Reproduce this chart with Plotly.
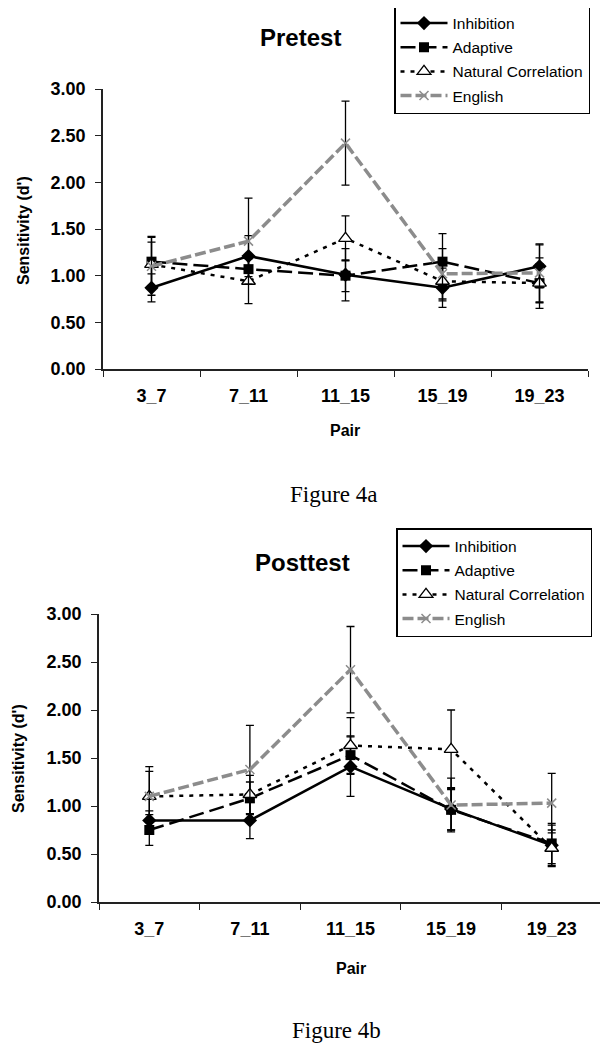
import plotly.graph_objects as go

W, H = 608, 1050
OFF = 8  # page body margin in the browser

pairs = ["3_7", "7_11", "11_15", "15_19", "19_23"]
series_names = ["Inhibition", "Adaptive", "Natural Correlation", "English"]

# Pretest
inh_pre = [0.87, 1.21, 1.01, 0.87, 1.10]
inh_pre_err = [0.15, 0.22, 0.28, 0.21, 0.23]
ada_pre = [1.15, 1.07, 1.00, 1.15, 0.92]
ada_pre_err = [0.27, 0.12, 0.17, 0.30, 0.21]
natc_pre = [1.12, 0.94, 1.40, 0.94, 0.92]
natc_pre_err = [0.24, 0.24, 0.24, 0.21, 0.27]
eng_pre = [1.10, 1.37, 2.42, 1.02, 1.03]
eng_pre_err = [0.31, 0.46, 0.45, 0.27, 0.31]

# Posttest
inh_post = [0.85, 0.85, 1.41, 0.97, 0.59]
inh_post_err = [0.10, 0.19, 0.31, 0.22, 0.21]
ada_post = [0.75, 1.08, 1.53, 0.96, 0.61]
ada_post_err = [0.16, 0.17, 0.20, 0.21, 0.21]
natc_post = [1.10, 1.12, 1.63, 1.59, 0.56]
natc_post_err = [0.26, 0.20, 0.29, 0.41, 0.19]
eng_post = [1.10, 1.38, 2.42, 1.01, 1.03]
eng_post_err = [0.31, 0.46, 0.45, 0.28, 0.31]

y_ticks = [0, 0.5, 1.0, 1.5, 2.0, 2.5, 3.0]

FONT = "Liberation Sans, Arial, sans-serif"
SERIF = "Liberation Serif, Times New Roman, serif"
GRAY = "#8c8c8c"

styles = {
    "Inhibition": dict(line=dict(color="black", width=2.5, dash="solid"),
                       marker=dict(symbol="diamond", size=11, color="black")),
    "Adaptive": dict(line=dict(color="black", width=2.5, dash="15px,6px"),
                     marker=dict(symbol="square", size=10, color="black")),
    "Natural Correlation": dict(line=dict(color="black", width=2.5, dash="4px,6px"),
                                marker=dict(symbol="triangle-up", size=12, color="white",
                                            line=dict(color="black", width=1.3))),
    "English": dict(line=dict(color=GRAY, width=3.5, dash="11px,4px"),
                    marker=dict(symbol="x-thin-open", size=9, color=GRAY,
                                line=dict(color=GRAY, width=1.5))),
}

fig = go.Figure()

panels = [
    ("x", "y", "legend", [inh_pre, ada_pre, natc_pre, eng_pre],
     [inh_pre_err, ada_pre_err, natc_pre_err, eng_pre_err]),
    ("x2", "y2", "legend2", [inh_post, ada_post, natc_post, eng_post],
     [inh_post_err, ada_post_err, natc_post_err, eng_post_err]),
]

for xa, ya, lg, vals, errs in panels:
    for name, v, e in zip(series_names, vals, errs):
        st = styles[name]
        fig.add_trace(go.Scatter(
            x=pairs, y=v, name=name, mode="lines+markers",
            xaxis=xa, yaxis=ya, legend=lg, legendgroup=lg + name,
            line=st["line"], marker=st["marker"],
            error_y=dict(type="data", array=e, visible=True, color="black",
                         thickness=1.3, width=4),
        ))


def px_x(p):
    return (p - OFF) / W


def px_y(p):
    return 1 - (p - OFF) / H


axis_font = dict(family=FONT, size=18, color="black", weight="bold")

common_x = dict(type="category", range=[-0.5, 4.5], tickson="boundaries",
                ticks="outside", ticklen=6, tickwidth=1.3, tickcolor="#222",
                showline=True, linecolor="#222", linewidth=1.5,
                showgrid=False, zeroline=False, tickfont=axis_font,
                ticklabelstandoff=10, categoryorder="array", categoryarray=pairs)
common_y = dict(range=[0, 3], tickvals=y_ticks, tickformat=".2f",
                ticks="outside", ticklen=6, tickwidth=1.3, tickcolor="#222",
                showline=True, linecolor="#222", linewidth=1.5,
                showgrid=False, zeroline=False, tickfont=axis_font,
                ticklabelstandoff=6)

legend_common = dict(xanchor="left", yanchor="top", bgcolor="white",
                     bordercolor="black", borderwidth=1.5,
                     font=dict(family=FONT, size=15.5, color="black"),
                     tracegroupgap=1, itemwidth=47)

fig.update_layout(
    width=W, height=H,
    margin=dict(l=0, r=0, t=0, b=0, pad=0, autoexpand=False),
    paper_bgcolor="white", plot_bgcolor="white",
    showlegend=True,
    xaxis=dict(domain=[px_x(103), px_x(588)], anchor="y", **common_x),
    yaxis=dict(domain=[px_y(369), px_y(89)], anchor="x", **common_y),
    xaxis2=dict(domain=[px_x(99), px_x(602)], anchor="y2", **common_x),
    yaxis2=dict(domain=[px_y(902), px_y(614)], anchor="x2", **common_y),
    legend=dict(x=px_x(394), y=px_y(5), **legend_common),
    legend2=dict(x=px_x(396), y=px_y(528), **legend_common),
)

annots = [
    ("Pretest", 300, 37, dict(family=FONT, size=24, color="black", weight="bold"), 0),
    ("Posttest", 302, 562, dict(family=FONT, size=24, color="black", weight="bold"), 0),
    ("Pair", 345, 431, dict(family=FONT, size=16, color="black", weight="bold"), 0),
    ("Pair", 351, 968, dict(family=FONT, size=16, color="black", weight="bold"), 0),
    ("Sensitivity (d')", 24, 231, dict(family=FONT, size=16, color="black", weight="bold"), -90),
    ("Sensitivity (d')", 18, 759, dict(family=FONT, size=16, color="black", weight="bold"), -90),
    ("Figure 4a", 334, 494, dict(family=SERIF, size=23, color="black"), 0),
    ("Figure 4b", 337, 1030, dict(family=SERIF, size=23, color="black"), 0),
]
for text, x, y, font, ang in annots:
    fig.add_annotation(text=text, x=px_x(x), y=px_y(y), xref="paper", yref="paper",
                       xanchor="center", yanchor="middle", showarrow=False,
                       font=font, textangle=ang)

fig.write_html("out.html")
